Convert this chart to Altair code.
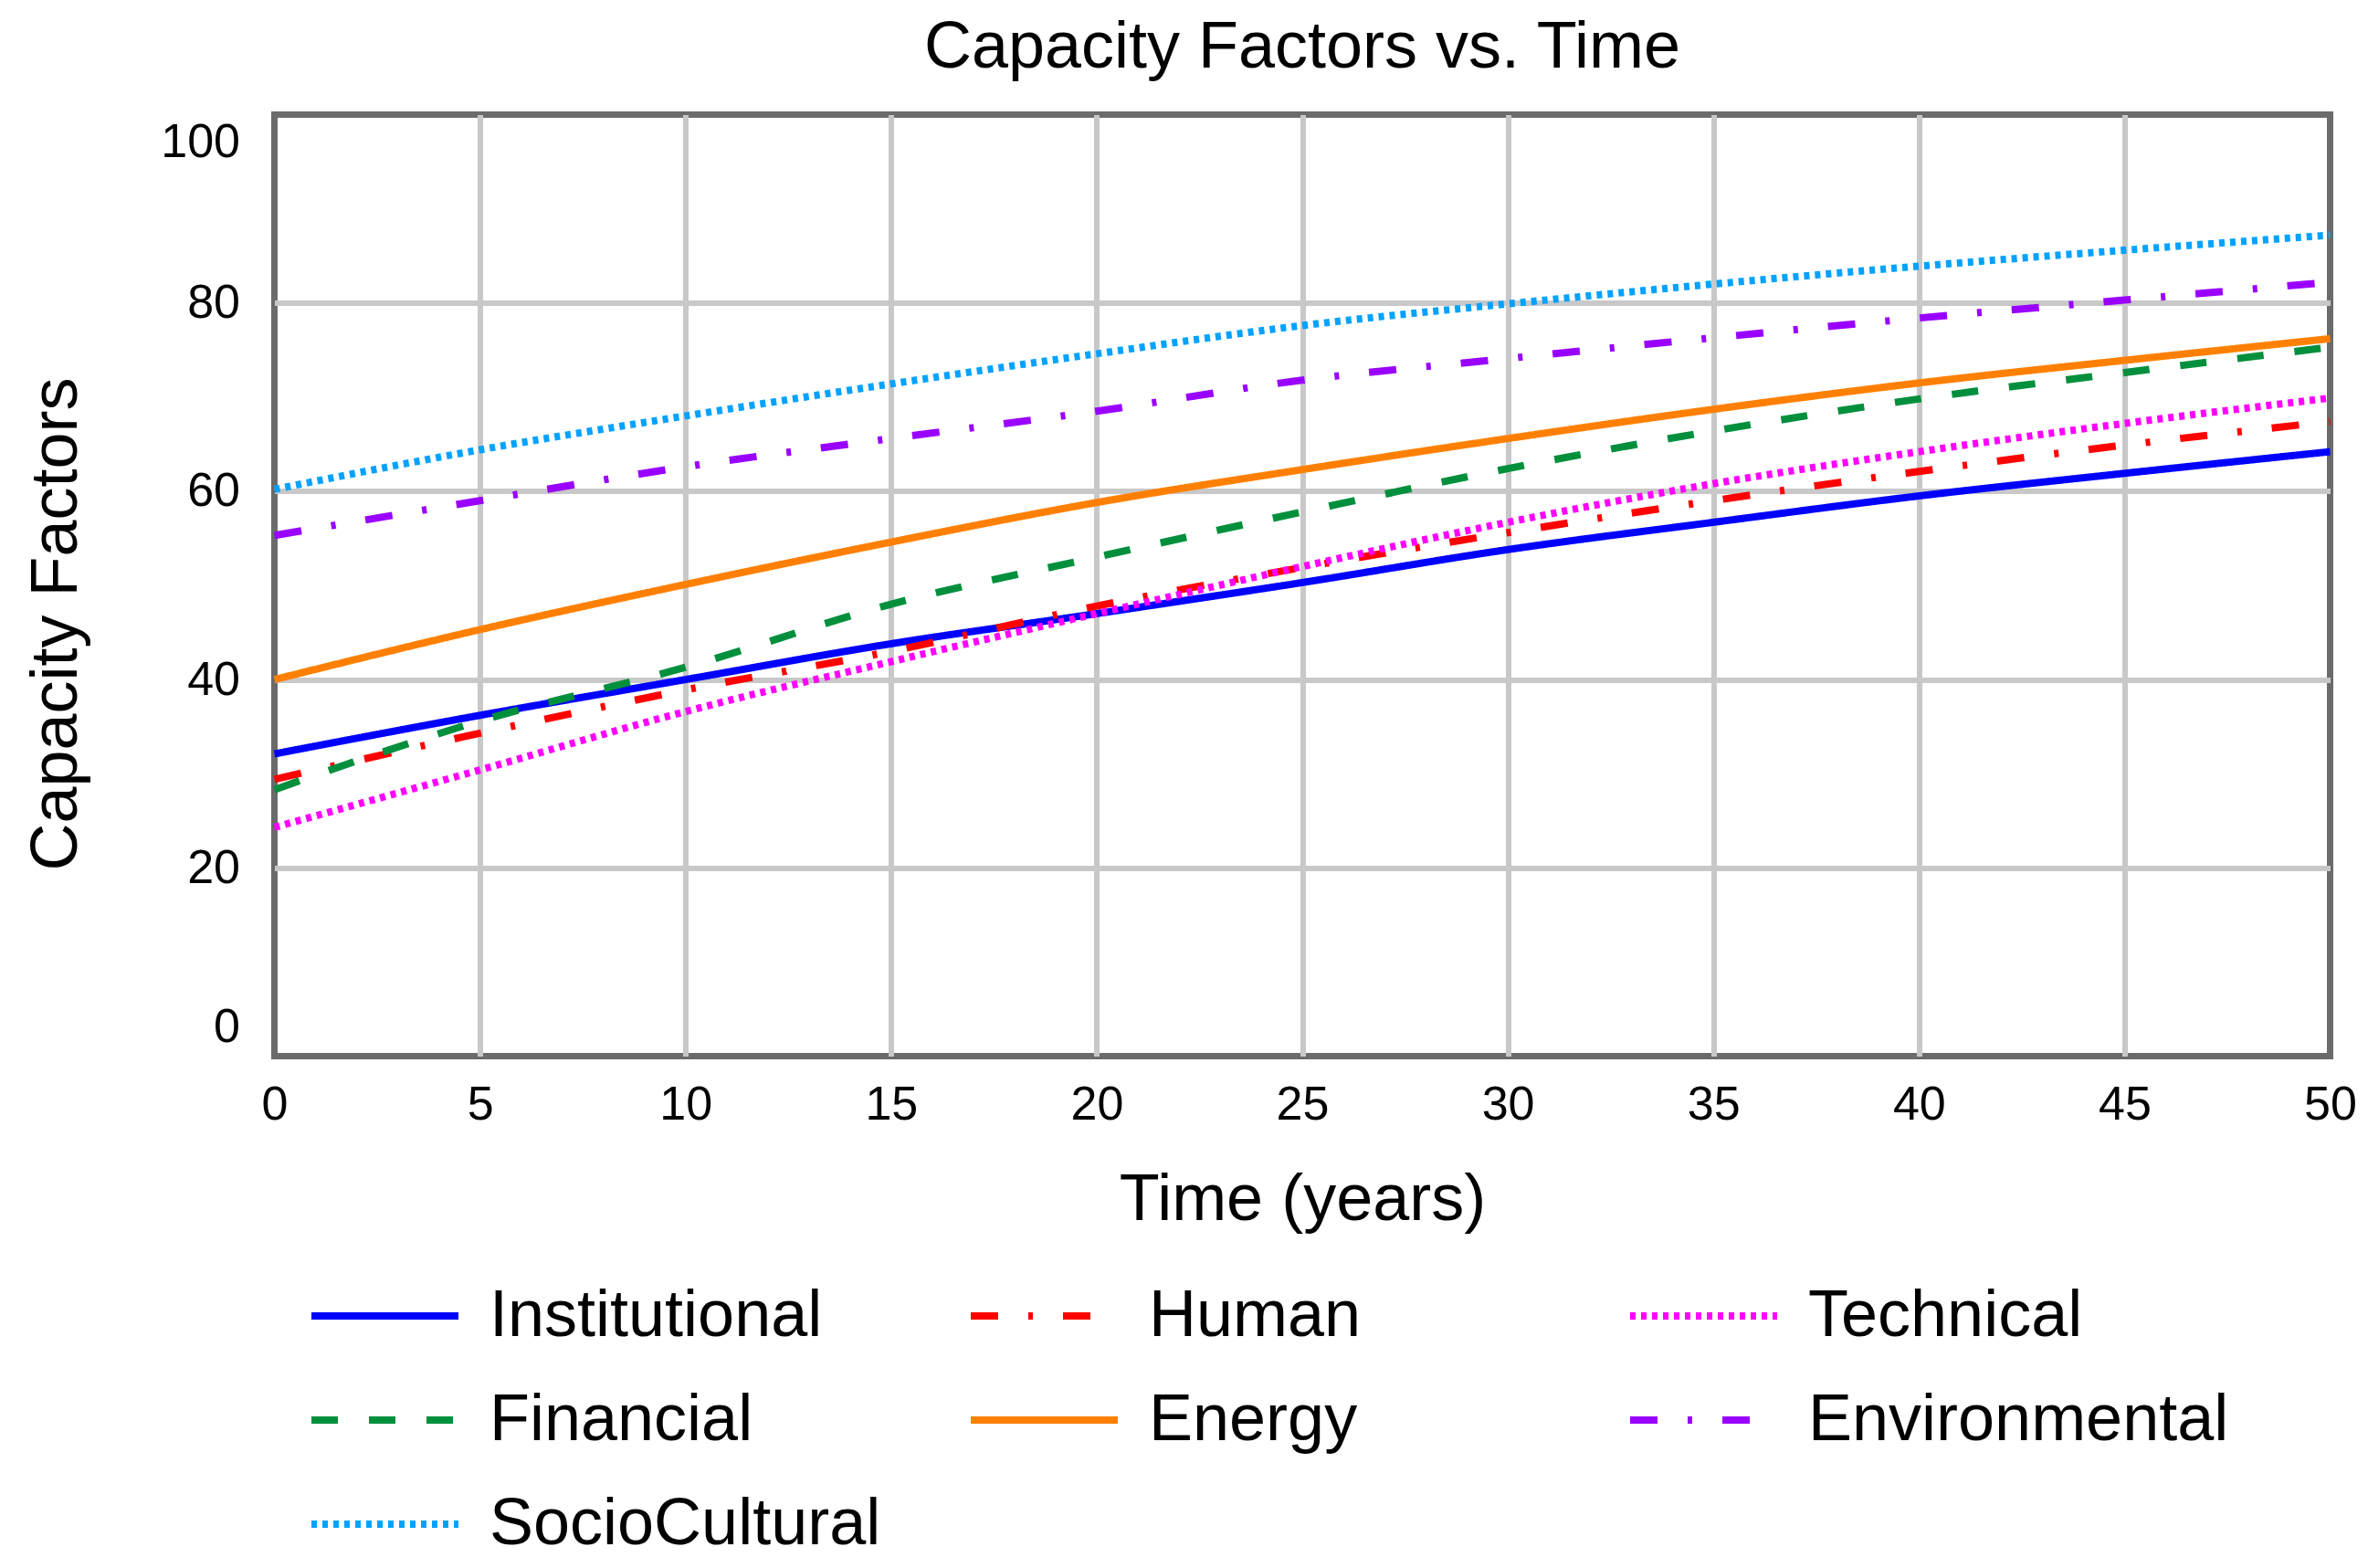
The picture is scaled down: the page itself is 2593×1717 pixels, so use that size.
import altair as alt
import pandas as pd

years = [0, 5, 10, 15, 20, 25, 30, 35, 40, 45, 50]

institutional = [32.1, 36.2, 40.0, 43.8, 47.0, 50.3, 53.8, 56.7, 59.5, 61.9, 64.2]
human = [29.4, 34.3, 38.9, 43.0, 47.8, 51.9, 55.6, 59.0, 62.1, 64.9, 67.4]
technical = [24.3, 30.4, 36.6, 41.9, 47.0, 52.0, 56.7, 60.8, 64.2, 67.2, 69.9]
financial = [28.3, 35.6, 41.3, 48.0, 53.0, 57.8, 62.4, 66.4, 69.8, 72.6, 75.3]
energy = [40.0, 45.3, 50.1, 54.6, 58.8, 62.3, 65.6, 68.7, 71.5, 73.9, 76.2]
environmental = [55.3, 59.0, 62.6, 65.6, 68.5, 71.8, 74.1, 76.3, 78.4, 80.3, 82.2]
sociocultural = [60.2, 64.4, 68.0, 71.4, 74.6, 77.6, 79.9, 82.0, 83.9, 85.6, 87.2]

series_names = ["Institutional", "Human", "Technical", "Financial",
                "Energy", "Environmental", "SocioCultural"]
series_values = [institutional, human, technical, financial,
                 energy, environmental, sociocultural]
series_colors = ["#0000ff", "#ff0000", "#ff00ff", "#008f3c",
                 "#ff8000", "#9900ff", "#00a2ff"]
series_dashes = [[1, 0], [30, 33, 5, 33], [6, 6], [29, 34],
                 [1, 0], [30, 33, 5, 33], [6, 6]]

y_ticks = [0, 20, 40, 60, 80, 100]

rows = []
for name, vals in zip(series_names, series_values):
    for t, v in zip(years, vals):
        rows.append({"Time": t, "Value": v, "Series": name})
df = pd.DataFrame(rows)

FONT = "Liberation Sans"

legend = alt.Legend(
    orient="none", legendX=36.5, legendY=1279.5, columns=3, gridAlign="all",
    direction="horizontal",
    symbolType="stroke", symbolSize=25921, symbolStrokeWidth=8,
    clipHeight=72, labelFontSize=72, labelFont=FONT, labelColor="black",
    labelOffset=30, labelLimit=1000, columnPadding=62, rowPadding=42,
    padding=0, labelBaseline="middle",
)

chart = alt.Chart(df).mark_line(strokeWidth=8, interpolate="monotone").encode(
    x=alt.X("Time:Q",
            scale=alt.Scale(domain=[0, 50], nice=False, zero=False),
            axis=alt.Axis(values=years, title="Time (years)", labelPadding=28,
                          labelFlush=False, titleX=1125.5, titleY=178.5,
                          titleAlign="center", titleBaseline="alphabetic",
                          gridOpacity={"condition": {"test": "datum.value === 0 || datum.value === 50",
                                                     "value": 0}, "value": 1})),
    y=alt.Y("Value:Q",
            scale=alt.Scale(domain=[0, 100], nice=False),
            axis=alt.Axis(values=y_ticks, title="Capacity Factors", labelPadding=38,
                          labelFlush=True, labelFlushOffset=-5, titleAngle=270,
                          titleX=-217.5, titleY=557.5, titleAlign="center",
                          titleBaseline="alphabetic",
                          gridOpacity={"condition": {"test": "datum.value === 0 || datum.value === 100",
                                                     "value": 0}, "value": 1})),
    color=alt.Color("Series:N", title=None,
                    scale=alt.Scale(domain=series_names, range=series_colors),
                    legend=legend),
    strokeDash=alt.StrokeDash("Series:N", title=None,
                              scale=alt.Scale(domain=series_names, range=series_dashes),
                              legend=legend),
).properties(
    width=2251, height=1031,
    autosize=alt.AutoSizeParams(type="none"),
    padding={"left": 292.5, "top": 117.5, "right": 30, "bottom": 560},
    title=alt.TitleParams("Capacity Factors vs. Time", font=FONT, fontSize=72,
                          fontWeight="normal", color="black", anchor="middle",
                          baseline="alphabetic", offset=40, dy=60),
).configure_view(
    stroke="#6b6b6b", strokeWidth=7
).configure_axis(
    domain=False, ticks=False, tickSize=0, grid=True, gridColor="#c8c8c8",
    gridWidth=6, labelFont=FONT, labelFontSize=52, labelColor="black",
    titleFont=FONT, titleFontSize=72, titleFontWeight="normal", titleColor="black",
)

chart.save("out.html", embed_options={"renderer": "svg", "actions": False})
